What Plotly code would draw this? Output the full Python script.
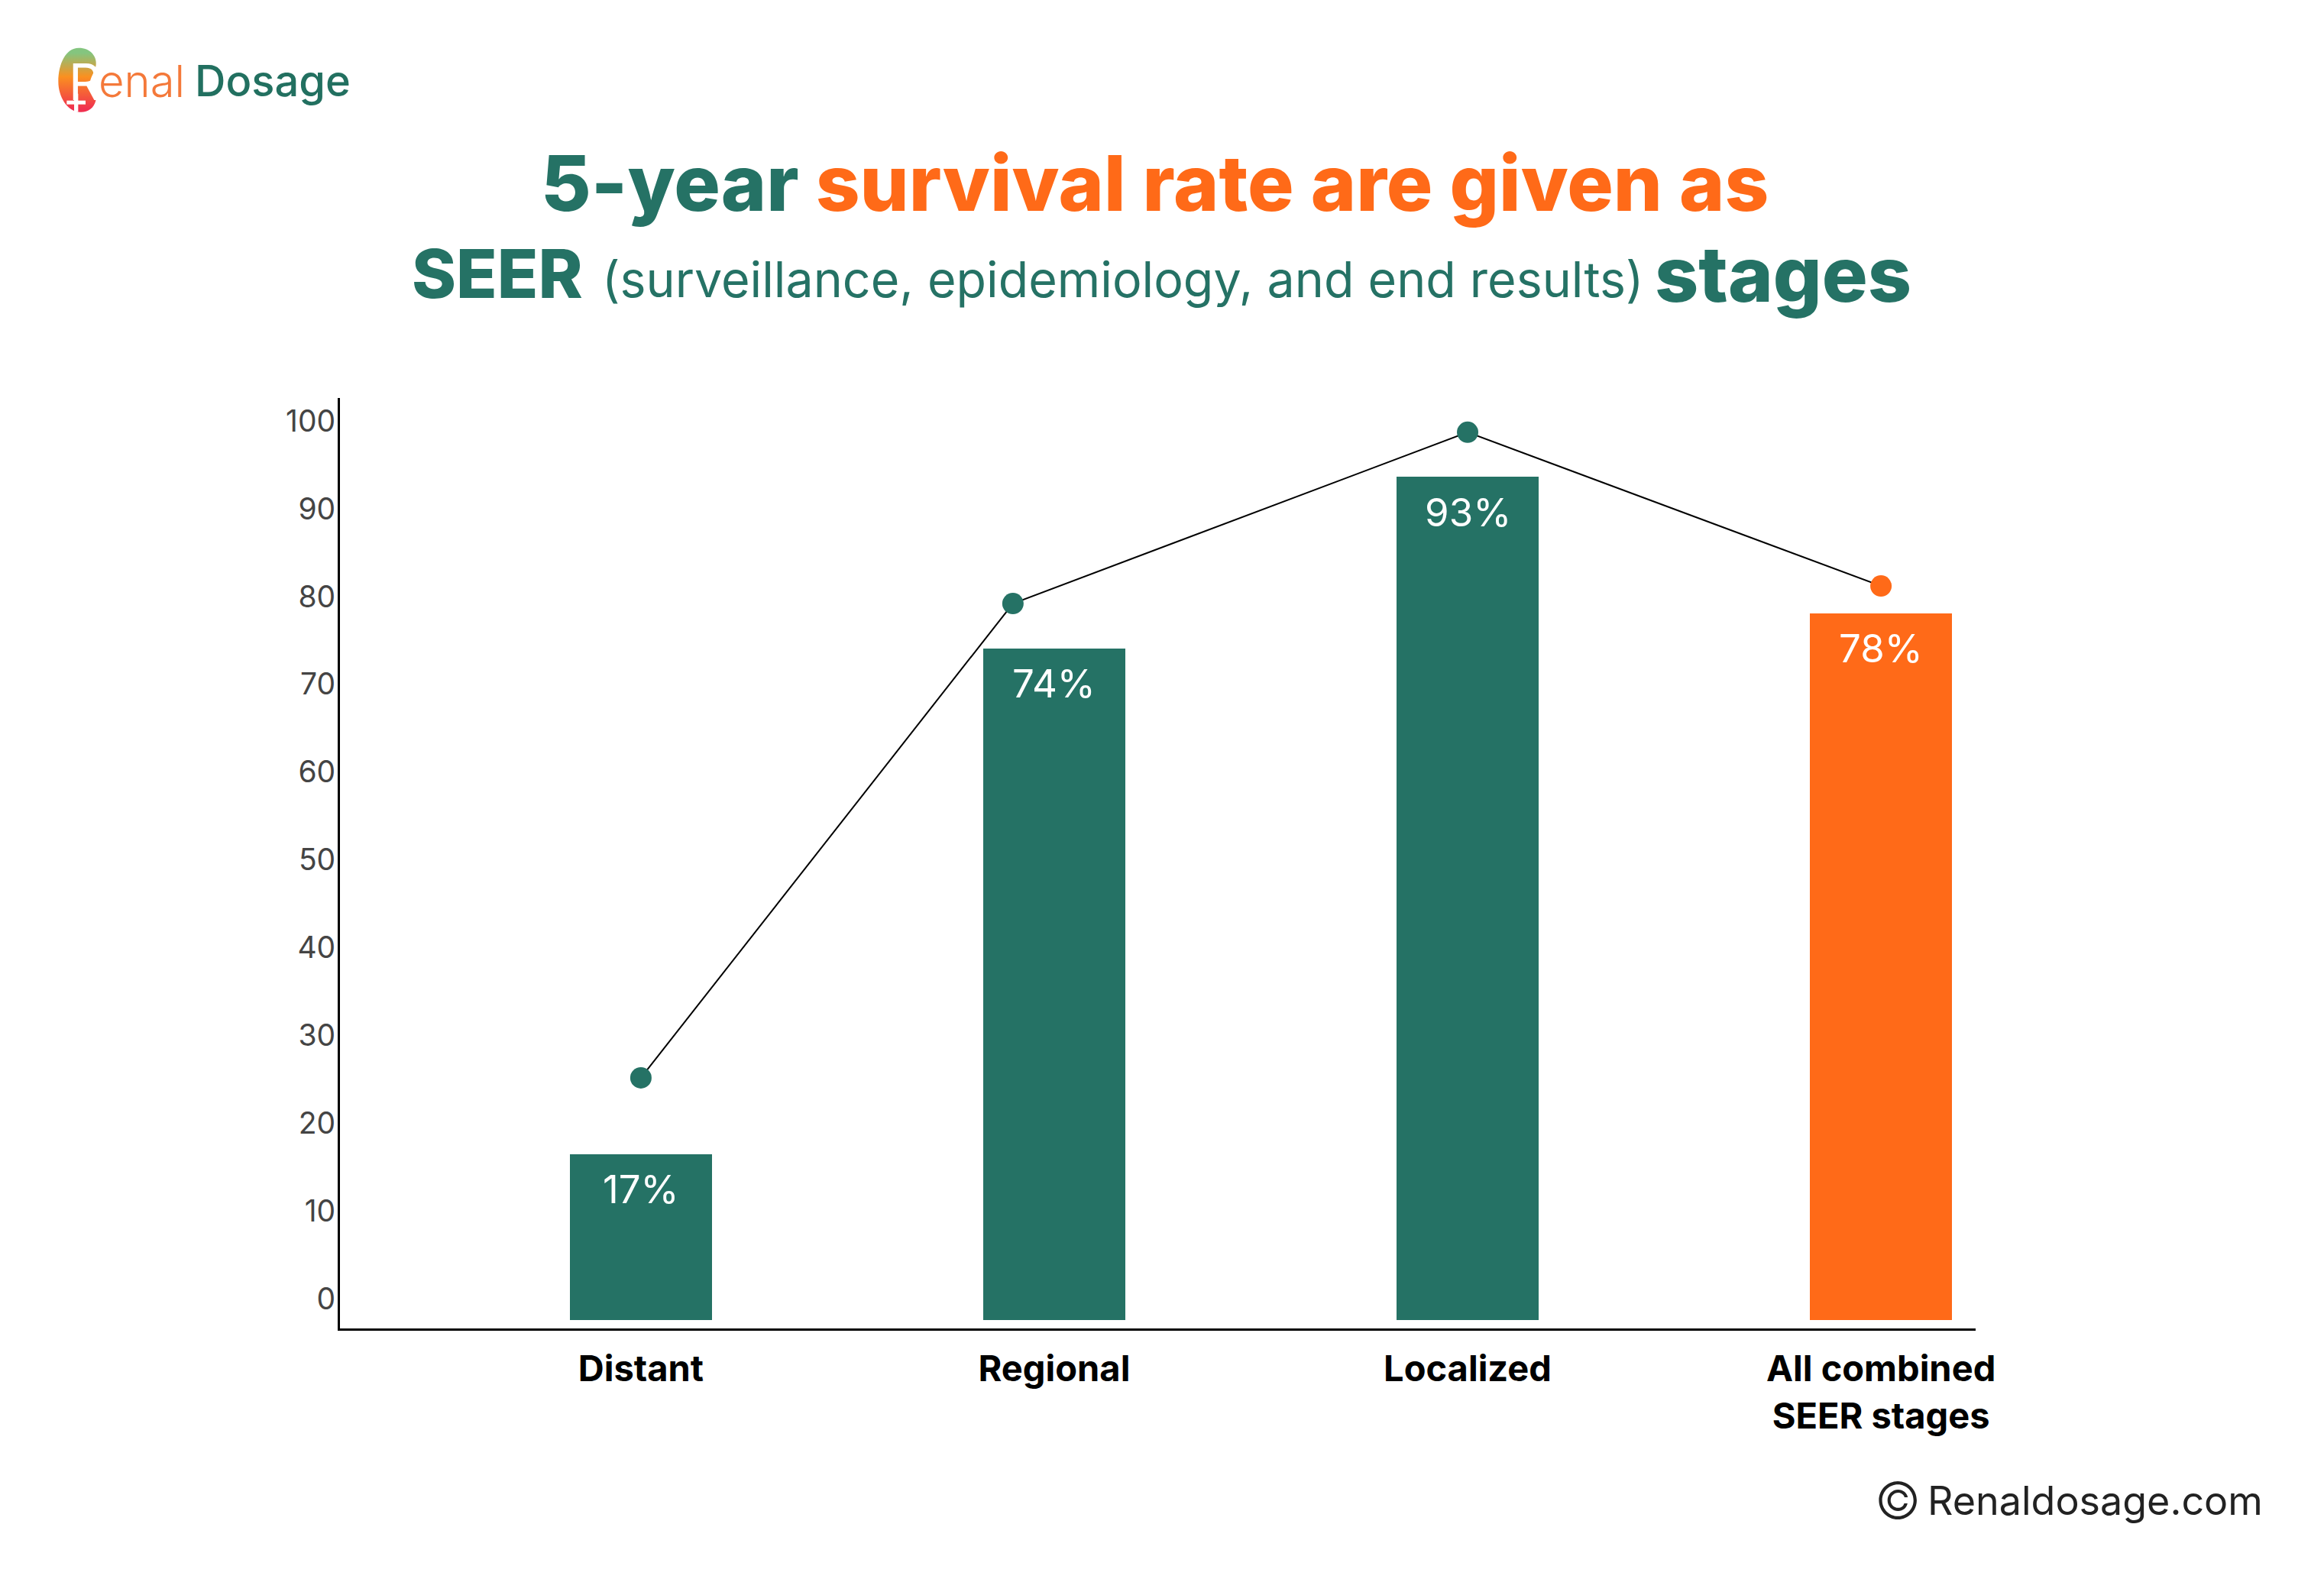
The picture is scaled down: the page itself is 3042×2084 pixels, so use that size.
"""SEER stage 5-year survival chart, Renal Dosage infographic."""
import base64

import plotly.graph_objects as go

# chart data
categories = ["Distant", "Regional", "Localized", "All combined<br>SEER stages"]
bar_labels = ["17%", "74%", "93%", "78%"]
bar_tops = [16.5, 74.1, 93.6, 78.1]
bar_floor = -2.4
bar_colors = ["#257265", "#257265", "#257265", "#FF6A18"]

trend_pos = [0, 0.9, 2, 3]
trend_values = [25.2, 79.2, 98.7, 81.2]

y_ticks = [0, 10, 20, 30, 40, 50, 60, 70, 80, 90, 100]

TEAL = "#257265"
ORANGE = "#FF6A18"
FONT = "Inter"

# page is 3042x2084, the browser body keeps its 8px margin
PAGE_W, PAGE_H = 3026, 2068
OFFSET = 8
PLOT_L, PLOT_R, PLOT_T, PLOT_B = 445, 2586, 521, 1739


def px_x(x):
    return (x - PLOT_L) / (PLOT_R - PLOT_L)


def px_y(y):
    return (PLOT_B - y) / (PLOT_B - PLOT_T)


def page_text(x, y, text, size, color, anchor="center", weight=None):
    fig.add_annotation(
        x=px_x(x), y=px_y(y), xref="paper", yref="paper",
        text=text, showarrow=False, xanchor=anchor, yanchor="middle",
        font=dict(family=FONT, size=size, color=color, weight=weight),
    )


fig = go.Figure()
fig.add_trace(go.Bar(
    x=list(range(len(categories))),
    y=[v - bar_floor for v in bar_tops],
    base=bar_floor,
    width=0.344,
    marker=dict(color=bar_colors, line_width=0),
    showlegend=False,
))
fig.add_trace(go.Scatter(
    x=trend_pos, y=trend_values,
    mode="lines+markers",
    line=dict(color="#000000", width=2),
    marker=dict(size=28, color=bar_colors, line_width=0),
    showlegend=False,
))

# value labels sit just under the bar tops
for i, (top, label) in enumerate(zip(bar_tops, bar_labels)):
    fig.add_annotation(
        x=i, y=top, yshift=-46, text=label, showarrow=False,
        font=dict(family=FONT, size=51, color="#FFFFFF"),
    )

fig.update_layout(
    width=PAGE_W, height=PAGE_H,
    margin=dict(l=PLOT_L - OFFSET, r=PAGE_W + OFFSET - PLOT_R,
                t=PLOT_T - OFFSET, b=PAGE_H + OFFSET - PLOT_B, pad=0),
    paper_bgcolor="#FFFFFF", plot_bgcolor="#FFFFFF",
    bargap=0,
    xaxis=dict(
        range=[-0.728, 3.229], tickvals=list(range(len(categories))),
        ticktext=[f"<b>{c}</b>" for c in categories],
        tickfont=dict(family=FONT, size=47, color="#000000"),
        showgrid=False, zeroline=False, showline=True,
        linecolor="#000000", linewidth=3, ticks="", ticklabelstandoff=10,
    ),
    yaxis=dict(
        range=[-3.33, 102.6], tickvals=y_ticks,
        tickfont=dict(family=FONT, size=39, color="#444444"),
        showgrid=False, zeroline=False, showline=True,
        linecolor="#000000", linewidth=3, ticks="", ticklabelstandoff=-5,
    ),
)

# headline
page_text(1511, 239, f'5-year <span style="color:{ORANGE}">survival rate are given as</span>',
          101, TEAL, weight=800)
page_text(537, 358, "SEER", 88, TEAL, anchor="left", weight=800)
page_text(786, 366, "(surveillance, epidemiology, and end results)", 64.5, TEAL, anchor="left")
page_text(2164, 358, "stages", 100, TEAL, anchor="left", weight=800)

# logo
kidney_svg = """<svg xmlns="http://www.w3.org/2000/svg" viewBox="100 90 170 270">
<defs><linearGradient id="g" x1="0" y1="0" x2="0" y2="1">
<stop offset="0.08" stop-color="#84C57F"/><stop offset="0.45" stop-color="#FA9020"/>
<stop offset="0.95" stop-color="#F0304F"/></linearGradient></defs>
<path fill="url(#g)" d="M190 98C235 98 262 130 258 165C255 195 232 215 235 240C238 265 262 280 257 305
C250 335 225 352 195 350C145 348 110 290 110 230C110 160 140 98 190 98Z"/>
<rect x="143" y="305" width="74" height="15" fill="#fff"/><rect x="172" y="278" width="16" height="72" fill="#fff"/>
</svg>"""
fig.add_layout_image(
    source="data:image/svg+xml;base64," + base64.b64encode(kidney_svg.encode()).decode(),
    xref="paper", yref="paper", x=px_x(73), y=px_y(60),
    sizex=(170 / 3) / (PLOT_R - PLOT_L), sizey=(270 / 3) / (PLOT_B - PLOT_T),
    xanchor="left", yanchor="top", sizing="stretch", layer="below",
)
page_text(88, 107, "R", 66, "#FFFFFF", anchor="left")
page_text(127, 106, "enal", 58, "#F4793A", anchor="left", weight=300)
page_text(253, 106, "Dosage", 56, "#227060", anchor="left", weight=500)

# footer
page_text(2484, 1964, "©", 66, "#222222", weight=300)
page_text(2964, 1964, "Renaldosage.com", 52, "#222222", anchor="right")

fig.write_html("out.html")
